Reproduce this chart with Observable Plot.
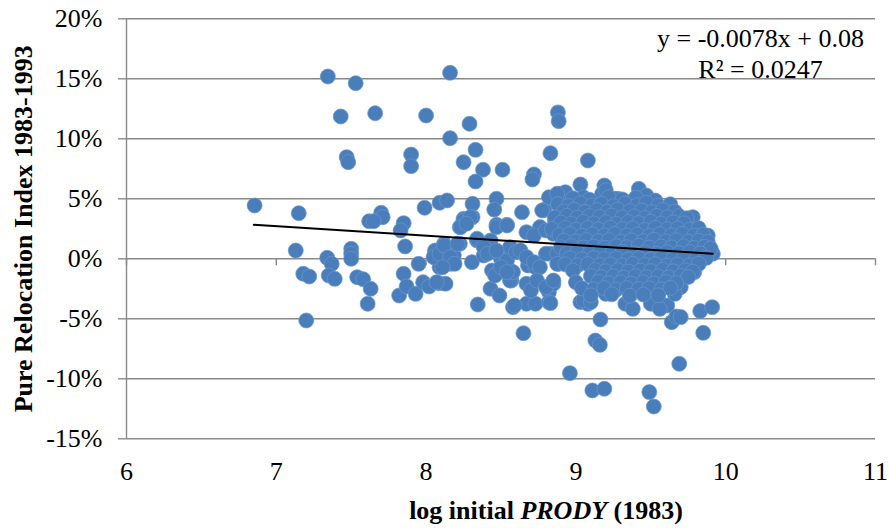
<!DOCTYPE html>
<html>
<head>
<meta charset="utf-8">
<script src="https://cdn.jsdelivr.net/npm/d3@7"></script>
<script src="https://cdn.jsdelivr.net/npm/@observablehq/plot@0.6"></script>
<style>
  html, body { margin: 0; padding: 0; background: #fff; }
  #chart { width: 890px; height: 528px; }
</style>
</head>
<body>
<div id="chart"></div>
<script>
// ---------- DATA (x = log initial PRODY, y = Pure Relocation Index in %) ----------
const xTicks = [6, 7, 8, 9, 10, 11];
const yTicks = [-0.15, -0.10, -0.05, 0, 0.05, 0.10, 0.15, 0.20];
const equationText = "y = -0.0078x + 0.08";
const r2Text = "R² = 0.0247";
const yTitle = "Pure Relocation Index 1983-1993";
const xTitleParts = ["log initial ", "PRODY", " (1983)"];

// trend line ends
const trendX = [6.85, 9.914];
const trendY = [2.83, 0.42];

// sparse points on the left / high outliers
const leftPoints = [
  [6.855, 4.44], [7.15, 3.80], [7.13, 0.69], [7.18, -1.25], [7.22, -1.48], [7.20, -5.14],
  [7.34, 0.08], [7.37, -0.42], [7.35, -1.39], [7.39, -1.67],
  [7.344, 15.19], [7.53, 14.63], [7.43, 11.86], [7.66, 12.13], [8.00, 11.94], [8.16, 15.5],
  [8.29, 11.25], [8.16, 10.05], [7.47, 8.47], [7.48, 8.05], [7.90, 8.69], [7.90, 7.72],
  [8.33, 9.08], [8.25, 8.05], [8.38, 7.42], [8.33, 6.44], [8.51, 7.42], [8.72, 7.03],
  [8.71, 6.61], [8.83, 8.80], [8.88, 12.2], [8.885, 11.47], [9.08, 8.19],
  [7.50, 0.83], [7.50, 0.42], [7.50, 0.0], [7.54, -1.53], [7.58, -1.70], [7.62, 3.13],
  [7.63, -2.5], [7.61, -3.75], [7.70, 3.83], [7.71, 3.47], [7.65, 3.13], [7.85, 2.97]
];

// middle band (x 7.8 - 8.9)
const midPoints = [
  [7.99, 4.25], [8.09, 4.67], [8.14, 4.86], [8.31, 4.58], [8.47, 5.0], [8.455, 4.1],
  [8.64, 3.88], [8.25, 3.33], [8.31, 3.47], [8.47, 2.83], [8.54, 2.83], [8.79, 4.08],
  [8.82, 5.13], [8.885, 5.28], [7.82, -3.06], [7.85, -1.25], [7.86, 1.03], [7.83, 2.36],
  [7.87, -2.3], [7.93, -2.92], [7.95, -0.42], [7.98, -1.95], [8.02, -2.31],
  [8.06, 0.55], [8.07, 0.0], [8.09, -0.7], [8.09, -2.03], [8.13, -2.08], [8.12, 1.25],
  [8.14, -0.14], [8.16, -0.42], [8.185, 0.28], [8.225, 1.25], [8.225, 2.64], [8.25, 3.19],
  [8.295, 3.47], [8.306, -0.28], [8.345, -3.81], [8.34, 1.53], [8.385, 1.11], [8.385, 0.28],
  [8.43, 1.53], [8.44, -0.97], [8.47, -1.25], [8.43, -2.5], [8.49, -3.06], [8.47, 2.64],
  [8.54, 2.78], [8.52, 0.0], [8.56, -0.97], [8.57, -1.81], [8.58, -4.03], [8.65, -6.2],
  [8.67, 2.22], [8.68, -0.56], [8.67, -2.08], [8.67, -3.75], [8.73, -3.75], [8.73, -0.7],
  [8.76, 2.64], [8.775, 4.03], [8.83, 0.42], [8.82, -2.78], [8.82, -3.61], [8.85, -2.08],
  [8.86, 3.19], [8.885, -0.42], [8.06, 0.69], [8.05, 0.14], [8.09, 0.42], [8.12, 1.11],
  [8.16, 0.14], [8.19, -0.42], [8.11, -0.7], [8.21, 1.25], [8.23, 2.64], [8.27, 2.92],
  [8.07, -1.95], [8.34, 1.67], [8.385, 0.97], [8.41, 0.42], [8.46, -1.39], [8.50, 0.0],
  [8.54, -0.14], [8.56, 0.97], [8.60, 0.55], [8.56, -1.81], [8.58, -1.11], [8.59, -3.89],
  [8.70, -2.64], [8.72, 1.94], [8.80, 2.36], [8.85, 2.08], [8.63, 0.69], [8.67, 0.14],
  [8.72, -0.28], [8.76, -0.7], [8.74, -1.81], [8.80, -2.36], [8.85, -1.81], [8.80, 0.42],
  [8.875, 0.42], [8.875, -0.42], [8.47, 0.69], [8.50, -0.7], [8.54, -1.11]
];

// points around the edge of the dense cluster and low outliers
const edgePoints = [
  [9.164, -5.06], [9.13, -6.81], [9.16, -7.17], [8.96, -9.53], [9.11, -10.97], [9.19, -10.83],
  [9.49, -11.11], [9.52, -12.31], [9.69, -8.75], [9.64, -5.28], [9.67, -4.81], [9.83, -4.36],
  [9.91, -4.03], [9.85, -6.17], [8.83, -3.69], [9.03, -3.61], [9.08, -3.75], [9.33, -3.75],
  [9.38, -4.17], [9.50, -3.75], [9.61, -3.89], [9.70, -2.36], [9.70, -4.86], [9.56, -4.17],
  [9.20, -2.92], [9.66, -2.92], [9.79, -1.11], [9.05, -3.47], [9.10, -3.61],
  [9.78, 3.47], [9.88, 1.94], [9.914, 0.42], [9.03, 6.19], [9.19, 6.11], [9.42, 5.83],
  [9.47, 5.28], [9.175, 5.42], [8.90, 5.42], [8.93, 5.55], [9.05, 5.13], [9.28, 5.0],
  [9.20, 5.7], [8.875, 5.42], [9.0, 4.44], [9.07, 4.17], [9.175, 4.3], [9.26, 5.0],
  [9.36, 4.72], [9.50, 3.89], [9.56, 4.17], [9.68, 3.19]
];

// dense cluster (x 8.85 - 9.9)
const densePoints = [
  [8.98, 5.05], [9.09, 4.92], [9.22, 5.12], [9.31, 4.95], [9.40, 5.08], [9.53, 4.85],
  [8.88, 4.55], [8.95, 4.40], [9.03, 4.62], [9.11, 4.45], [9.17, 4.58], [9.25, 4.38], [9.33, 4.60], [9.41, 4.47], [9.47, 4.66], [9.55, 4.42], [9.63, 4.55],
  [8.92, 3.95], [8.99, 4.08], [9.06, 3.90], [9.14, 4.05], [9.21, 3.92], [9.28, 4.10], [9.36, 3.97], [9.44, 4.02], [9.51, 3.88], [9.58, 4.07], [9.66, 3.93],
  [8.86, 3.45], [8.94, 3.58], [9.01, 3.42], [9.09, 3.55], [9.16, 3.48], [9.24, 3.60], [9.31, 3.44], [9.39, 3.52], [9.46, 3.40], [9.54, 3.57], [9.61, 3.46], [9.69, 3.55], [9.74, 3.38],
  [8.90, 3.02], [8.97, 2.92], [9.05, 3.08], [9.12, 2.95], [9.20, 3.05], [9.27, 2.90], [9.35, 3.06], [9.42, 2.97], [9.50, 3.10], [9.57, 2.93], [9.65, 3.04], [9.72, 2.96],
  [8.84, 2.47], [8.93, 2.56], [9.00, 2.42], [9.08, 2.55], [9.15, 2.44], [9.23, 2.58], [9.31, 2.46], [9.38, 2.53], [9.46, 2.40], [9.53, 2.57], [9.61, 2.45], [9.68, 2.52], [9.76, 2.43], [9.82, 2.55],
  [8.89, 1.98], [8.96, 2.06], [9.04, 1.92], [9.11, 2.04], [9.19, 1.95], [9.26, 2.08], [9.34, 1.94], [9.41, 2.02], [9.49, 1.90], [9.56, 2.05], [9.64, 1.96], [9.71, 2.07], [9.79, 1.93], [9.85, 2.00],
  [8.92, 1.52], [9.00, 1.44], [9.07, 1.56], [9.15, 1.47], [9.22, 1.55], [9.30, 1.42], [9.37, 1.53], [9.45, 1.46], [9.52, 1.58], [9.60, 1.45], [9.67, 1.54], [9.75, 1.43], [9.82, 1.50], [9.88, 1.41],
  [8.90, 0.97], [8.97, 1.06], [9.05, 0.94], [9.12, 1.03], [9.19, 0.92], [9.27, 1.05], [9.34, 0.96], [9.42, 1.08], [9.49, 0.93], [9.57, 1.02], [9.64, 0.95], [9.72, 1.04], [9.79, 0.91], [9.86, 1.00], [9.90, 0.86],
  [8.94, 0.46], [9.01, 0.55], [9.09, 0.43], [9.16, 0.52], [9.24, 0.44], [9.31, 0.57], [9.39, 0.45], [9.46, 0.53], [9.54, 0.41], [9.61, 0.54], [9.69, 0.47], [9.76, 0.56], [9.83, 0.44],
  [8.96, 0.04], [9.04, -0.05], [9.12, 0.06], [9.19, -0.03], [9.27, 0.05], [9.35, -0.06], [9.42, 0.03], [9.50, -0.04], [9.57, 0.07], [9.65, -0.02], [9.72, 0.05], [9.80, -0.07], [9.87, 0.08],
  [8.93, -0.46], [9.01, -0.55], [9.08, -0.44], [9.16, -0.53], [9.23, -0.47], [9.31, -0.56], [9.38, -0.43], [9.46, -0.52], [9.53, -0.45], [9.61, -0.57], [9.68, -0.48], [9.76, -0.54], [9.82, -0.42],
  [8.98, -0.97], [9.13, -0.94], [9.20, -1.04], [9.28, -0.95], [9.35, -1.07], [9.43, -0.98], [9.50, -1.03], [9.58, -0.93], [9.65, -1.05], [9.73, -0.96], [9.78, -1.08],
  [9.10, -1.44], [9.17, -1.53], [9.25, -1.46], [9.32, -1.57], [9.40, -1.45], [9.47, -1.54], [9.55, -1.48], [9.62, -1.55], [9.70, -1.43], [9.75, -1.52],
  [9.00, -1.96], [9.15, -1.93], [9.22, -2.04], [9.30, -1.97], [9.37, -2.08], [9.45, -1.95], [9.52, -2.06], [9.60, -1.94], [9.67, -2.03],
  [9.04, -2.46], [9.12, -2.55], [9.19, -2.44], [9.27, -2.57], [9.34, -2.45], [9.42, -2.53], [9.49, -2.47], [9.57, -2.56], [9.63, -2.43],
  [9.10, -3.05], [9.24, -2.96], [9.36, -3.08], [9.45, -2.98], [9.55, -3.04]
];

// ---------- CHART ----------
const points = [...leftPoints, ...midPoints, ...edgePoints, ...densePoints]
  .map(([x, y]) => ({x, y: y / 100}));
const trend = trendX.map((x, i) => ({x, y: trendY[i] / 100}));

const axisColor = "#898989";
const font = '"Liberation Serif", "Times New Roman", serif';

const chart = Plot.plot({
  width: 890,
  height: 528,
  marginLeft: 126,
  marginRight: 15,
  marginTop: 18.3,
  marginBottom: 89.7,
  style: {fontFamily: font, fontSize: "26px", color: "#000", background: "#fff", overflow: "visible"},
  x: {domain: [6, 11], label: null},
  y: {domain: [-0.15, 0.2], label: null},
  marks: [
    Plot.ruleY(yTicks, {stroke: axisColor, strokeWidth: 1.4}),
    Plot.ruleX([6], {stroke: axisColor, strokeWidth: 1.4}),
    Plot.ruleX(xTicks, {y1: 0, y2: 0, insetBottom: -7, stroke: axisColor, strokeWidth: 1.4}),
    Plot.axisY({ticks: yTicks, tickSize: 8, tickPadding: 16, stroke: axisColor, strokeWidth: 1.4,
      tickFormat: d => `${Math.round(d * 100)}%`, fontSize: 26, fill: "#000", label: null}),
    Plot.axisX({ticks: xTicks, tickSize: 0, tickPadding: 23, tickFormat: d => String(d),
      fontSize: 26, fill: "#000", label: null}),
    Plot.dot(points, {x: "x", y: "y", r: 7.5, fill: "#4A7EBB", stroke: "#6a97ce", strokeWidth: 0.7}),
    Plot.line(trend, {x: "x", y: "y", stroke: "#000", strokeWidth: 2}),
    Plot.text([equationText], {frameAnchor: "top-right", lineAnchor: "middle", dx: -115, dy: 20, textAnchor: "middle", fontSize: 26, fill: "#000"}),
    Plot.text([r2Text], {frameAnchor: "top-right", lineAnchor: "middle", dx: -115, dy: 51, textAnchor: "middle", fontSize: 26, fill: "#000"}),
    Plot.text([yTitle], {frameAnchor: "left", lineAnchor: "middle", dx: -103, rotate: -90, textAnchor: "middle", fontSize: 26, fontWeight: "bold", fill: "#000"})
  ]
});

const svg = d3.select(chart);
const xt = svg.append("text")
  .attr("x", 546).attr("y", 519)
  .attr("text-anchor", "middle")
  .style("font-family", font)
  .attr("font-size", 26)
  .attr("font-weight", "bold")
  .attr("fill", "#000");
xt.append("tspan").text(xTitleParts[0]);
xt.append("tspan").attr("font-style", "italic").text(xTitleParts[1]);
xt.append("tspan").text(xTitleParts[2]);

document.getElementById("chart").appendChild(chart);
</script>
</body>
</html>
